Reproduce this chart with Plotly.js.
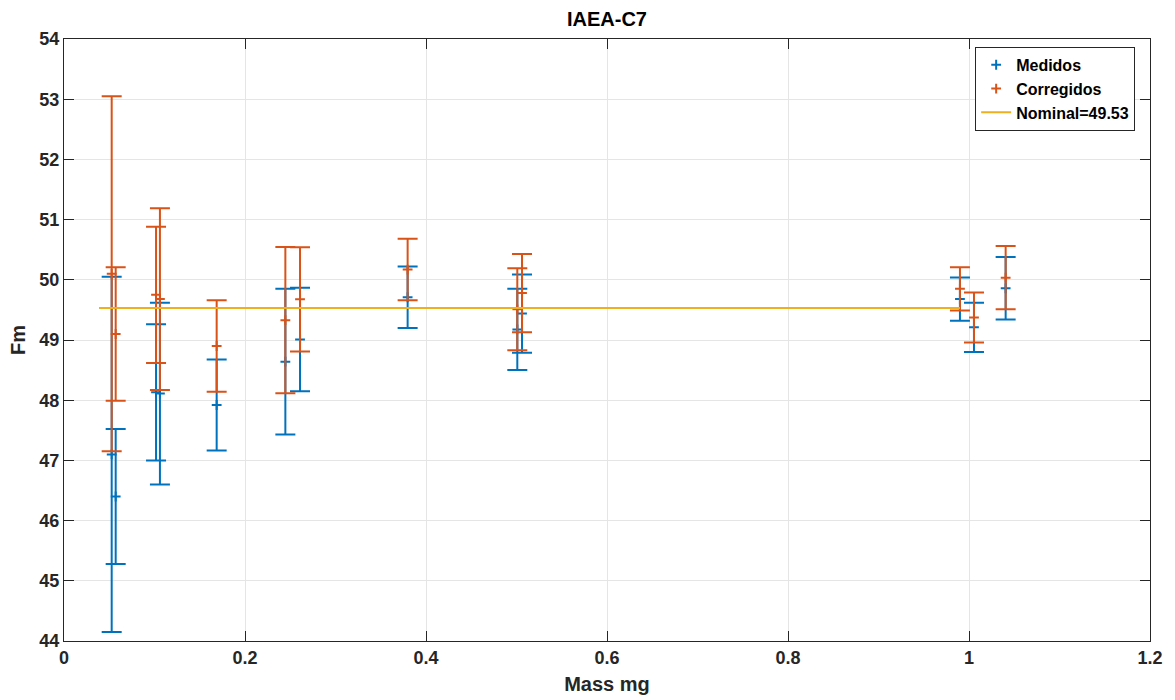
<!DOCTYPE html>
<html>
<head>
<meta charset="utf-8">
<script src="https://cdn.plot.ly/plotly-3.0.1.min.js"></script>
<style>html,body{margin:0;padding:0;background:#fff;}#chart{width:1175px;height:700px;}</style>
</head>
<body>
<div id="chart"></div>
<script>
// Sample masses (mg)
const mass = [0.0527, 0.0571, 0.1017, 0.1060, 0.1687, 0.2446, 0.2608, 0.3797, 0.5009, 0.5061, 0.9900, 1.0055, 1.0405];
// Measured Fm values and uncertainties
const medidos = [47.10, 46.40, 48.13, 48.11, 47.92, 48.64, 49.01, 49.71, 49.175, 49.44, 49.68, 49.21, 49.86];
const medidosErr = [2.95, 1.12, 1.13, 1.51, 0.755, 1.21, 0.86, 0.51, 0.675, 0.65, 0.36, 0.41, 0.52];
// Corrected Fm values and uncertainties
const corregidos = [50.10, 49.10, 49.75, 49.68, 48.90, 49.33, 49.675, 50.17, 49.51, 49.78, 49.85, 49.375, 50.035];
const corregidosErr = [2.95, 1.11, 1.13, 1.51, 0.76, 1.215, 0.865, 0.51, 0.68, 0.65, 0.36, 0.415, 0.525];
// Nominal line
const nominalX = [0.0387, 0.990];
const nominalValue = 49.53;

const FONT = '"Liberation Sans", Arial, Helvetica, sans-serif';
const TXT = '#262626';
const BLUE = '#0072BD', ORANGE = '#D95319', YELLOW = '#EDB120';

const traces = [
  {
    x: mass, y: medidos, type: 'scatter', mode: 'markers', name: 'Medidos',
    marker: {symbol: 'cross-thin-open', size: 7, color: BLUE, line: {color: BLUE, width: 2}},
    error_y: {type: 'data', array: medidosErr, visible: true, color: BLUE, thickness: 2, width: 10}
  },
  {
    x: mass, y: corregidos, type: 'scatter', mode: 'markers', name: 'Corregidos',
    marker: {symbol: 'cross-thin-open', size: 7, color: ORANGE, line: {color: ORANGE, width: 2}},
    error_y: {type: 'data', array: corregidosErr, visible: true, color: ORANGE, thickness: 2, width: 10}
  },
  {
    x: nominalX, y: nominalX.map(() => nominalValue), type: 'scatter', mode: 'lines',
    name: 'Nominal=' + nominalValue,
    line: {color: YELLOW, width: 2}
  }
];

const axisCommon = {
  showline: true, linecolor: TXT, linewidth: 1, mirror: 'ticks',
  ticks: 'inside', ticklen: 10, tickcolor: TXT, tickwidth: 1,
  showgrid: true, gridcolor: '#e5e5e5', gridwidth: 1, zeroline: false,
  tickfont: {family: FONT, size: 18, color: TXT, weight: 'bold'}
};

const layout = {
  width: 1175, height: 700,
  margin: {l: 64, r: 25, t: 39, b: 59},
  paper_bgcolor: '#ffffff', plot_bgcolor: '#ffffff',
  font: {family: FONT, color: TXT},
  title: {text: '<b>IAEA-C7</b>', font: {family: FONT, size: 20, color: '#000'},
          x: 0.5166, xanchor: 'center', y: 0.973, yanchor: 'middle', yref: 'container'},
  xaxis: Object.assign({}, axisCommon, {
    range: [0, 1.2], dtick: 0.2, tick0: 0,
    title: {text: '<b>Mass mg</b>', font: {family: FONT, size: 20, color: TXT}, standoff: 10}
  }),
  yaxis: Object.assign({}, axisCommon, {
    range: [44, 54], dtick: 1, tick0: 44,
    title: {text: '<b>Fm</b>', font: {family: FONT, size: 20, color: TXT}, standoff: 8}
  }),
  showlegend: true,
  legend: {
    x: 0.839, y: 0.987, xanchor: 'left', yanchor: 'top',
    bgcolor: '#ffffff', bordercolor: TXT, borderwidth: 1,
    font: {family: FONT, size: 16, color: '#000', weight: 'bold'},
    tracegroupgap: 0, itemwidth: 30
  }
};

Plotly.newPlot('chart', traces, layout, {displayModeBar: false, staticPlot: true});
</script>
</body>
</html>
